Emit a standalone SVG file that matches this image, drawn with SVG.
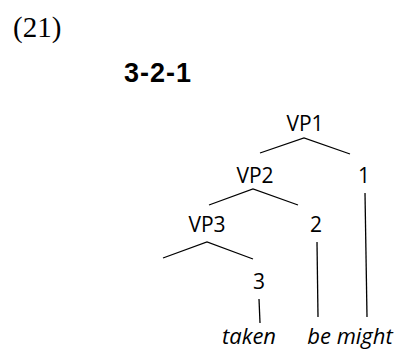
<svg xmlns="http://www.w3.org/2000/svg" width="396" height="350" viewBox="0 0 396 350">
<style>
.lbl{font-family:"Open Sans","Noto Sans",sans-serif;font-size:21px;fill:#000;text-anchor:middle}
.it{font-style:italic;font-size:22px}
.edge{stroke:#000;stroke-width:1.3;fill:none}
</style>
<rect width="396" height="350" fill="#fff"/>
<text x="13" y="37" font-family="Liberation Serif, serif" font-size="29">(21)</text>
<text x="124" y="82" font-family="Liberation Sans, Arial, sans-serif" font-weight="bold" font-size="27" textLength="67">3-2-1</text>
<g id="connectors">
<polyline class="edge" points="260,153 304,138 350,154"/>
<polyline class="edge" points="209,205 253,189 298,205"/>
<polyline class="edge" points="163,258 207,242 253,259"/>
<line class="edge" x1="365" y1="193" x2="367" y2="317"/>
<line class="edge" x1="317" y1="242" x2="318" y2="317"/>
<line class="edge" x1="259" y1="299" x2="260" y2="323"/>
</g>
<g id="VP1"><text class="lbl" x="305" y="131">VP1</text></g>
<g id="VP2"><text class="lbl" x="255" y="183">VP2</text></g>
<g id="n1"><text class="lbl" x="364" y="183">1</text></g>
<g id="VP3"><text class="lbl" x="207" y="232">VP3</text></g>
<g id="n2"><text class="lbl" x="316" y="232">2</text></g>
<g id="n3"><text class="lbl" x="259" y="289">3</text></g>
<g id="taken"><text class="lbl it" x="249" y="344">taken</text></g>
<g id="bemight"><text class="lbl it" x="350" y="344">be might</text></g>
</svg>
